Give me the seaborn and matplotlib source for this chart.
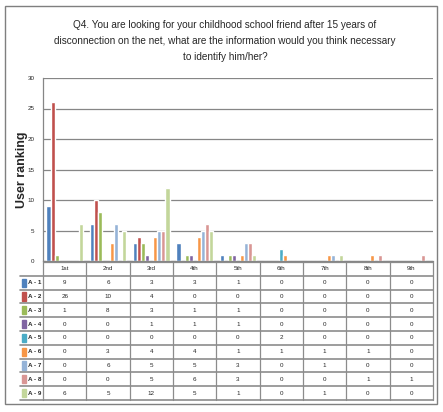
import numpy as np
import pandas as pd
import seaborn as sns
import matplotlib.pyplot as plt
from matplotlib.patches import Rectangle

# ranking positions and answer options
ranks = ["1st", "2nd", "3rd", "4th", "5th", "6th", "7th", "8th", "9th"]
answers = ["A - 1", "A - 2", "A - 3", "A - 4", "A - 5", "A - 6", "A - 7", "A - 8", "A - 9"]

a1 = [9, 6, 3, 3, 1, 0, 0, 0, 0]
a2 = [26, 10, 4, 0, 0, 0, 0, 0, 0]
a3 = [1, 8, 3, 1, 1, 0, 0, 0, 0]
a4 = [0, 0, 1, 1, 1, 0, 0, 0, 0]
a5 = [0, 0, 0, 0, 0, 2, 0, 0, 0]
a6 = [0, 3, 4, 4, 1, 1, 1, 1, 0]
a7 = [0, 6, 5, 5, 3, 0, 1, 0, 0]
a8 = [0, 0, 5, 6, 3, 0, 0, 1, 1]
a9 = [6, 5, 12, 5, 1, 0, 1, 0, 0]
counts = [a1, a2, a3, a4, a5, a6, a7, a8, a9]

colors = ["#4F81BD", "#C0504D", "#9BBB59", "#8064A2", "#4BACC6",
          "#F79646", "#95B3D7", "#D99694", "#C3D69B"]

title = ("Q4. You are looking for your childhood school friend after 15 years of\n"
         "disconnection on the net, what are the information would you think necessary\n"
         "to identify him/her?")

rows = []
for ans, vals in zip(answers, counts):
    for r, v in zip(ranks, vals):
        rows.append({"rank": r, "answer": ans, "count": v})
df = pd.DataFrame(rows)

sns.set_style("white")
plt.rcParams['font.family'] = ['Liberation Sans', 'DejaVu Sans']

W, H = 443, 412
fig = plt.figure(figsize=(W / 100, H / 100), dpi=100)

def box(x0, y0, x1, y1):
    return [x0 / W, 1 - y1 / H, (x1 - x0) / W, (y1 - y0) / H]

grid_c = "#868686"

ax = fig.add_axes(box(43, 78, 433, 261))
sns.barplot(data=df, x="rank", y="count", hue="answer", palette=colors,
            width=0.84, saturation=1, legend=False, ax=ax, gap=0)
ax.set_xlim(-0.5, 8.5)
ax.set_ylim(0, 30)
ax.set_yticks(range(0, 31, 5))
ax.tick_params(axis='y', labelsize=4.5, length=2, color=grid_c, pad=4)
ax.set_xticks([])
ax.set_xlabel("")
ax.set_ylabel("User ranking", fontsize=9, fontweight='bold', va='center')
ax.yaxis.set_label_coords((22 - 43) / 390, 0.5)
ax.grid(axis='y', color=grid_c, lw=0.9)
ax.set_axisbelow(True)
for s in ["top", "right"]:
    ax.spines[s].set_visible(False)
for s in ["left", "bottom"]:
    ax.spines[s].set_color(grid_c)
    ax.spines[s].set_linewidth(0.9)

# data table under the chart
unit = 390 / 9.0
def ux(px):
    return -0.5 + (px - 43) / unit

tax = fig.add_axes(box(5, 262, 433, 400))
tax.set_xlim(ux(5), 8.5)
tax.set_ylim(10, 0)
tax.axis("off")
line_c = "#8c8c8c"
for k in range(10):
    tax.plot([k - 0.5, k - 0.5], [0, 10], color=line_c, lw=0.9, clip_on=False)
tax.plot([-0.5, 8.5], [0, 0], color=line_c, lw=0.9, clip_on=False)
for j in range(1, 11):
    tax.plot([ux(20), 8.5], [j, j], color=line_c, lw=1.2, clip_on=False)
for i, r in enumerate(ranks):
    tax.text(i, 0.5, r, ha='center', va='center', fontsize=4.5)
for j, (ans, vals, c) in enumerate(zip(answers, counts, colors)):
    y = j + 1.5
    tax.add_patch(Rectangle((ux(22), y - 0.3), 4.5 / unit, 0.6, color=c, clip_on=False))
    tax.text(ux(28), y, ans, ha='left', va='center', fontsize=4.5, fontweight='bold')
    for i, v in enumerate(vals):
        tax.text(i, y, str(v), ha='center', va='center', fontsize=4.5)

fig.text(225 / W, 1 - 41 / H, title, ha='center', va='center',
         fontsize=7.2, linespacing=1.8)

fig.add_artist(Rectangle((5 / W, 1 - 404 / H), 432 / W, 398 / H, fill=False,
                         ec="#7f7f7f", lw=1, transform=fig.transFigure))

fig.savefig("out.png", dpi=100)
